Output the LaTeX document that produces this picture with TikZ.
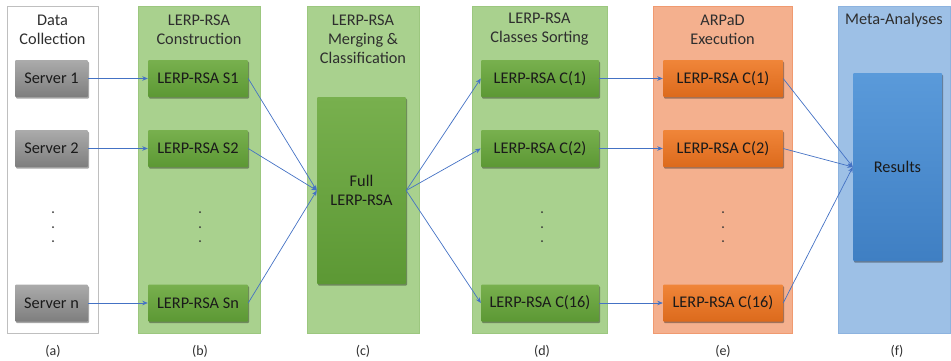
\documentclass[tikz,border=0pt]{standalone}
\usepackage{fontspec}
\setmainfont{Carlito}
\usetikzlibrary{shadows,arrows.meta}

\definecolor{colgreen}{HTML}{A9D18E}
\definecolor{colgreenln}{HTML}{9CC77F}
\definecolor{colorange}{HTML}{F4B08E}
\definecolor{colorangeln}{HTML}{F09A70}
\definecolor{colblue}{HTML}{9DC0E6}
\definecolor{colblueln}{HTML}{8DB3DF}
\definecolor{boxgreenT}{HTML}{78B04E}
\definecolor{boxgreenB}{HTML}{5C9834}
\definecolor{boxgrayT}{HTML}{ABABAB}
\definecolor{boxgrayB}{HTML}{7E7E7E}
\definecolor{boxorangeT}{HTML}{F08539}
\definecolor{boxorangeB}{HTML}{DC6A1C}
\definecolor{boxblueT}{HTML}{5A9ADA}
\definecolor{boxblueB}{HTML}{3F7FC3}
\definecolor{arrowblue}{HTML}{4472C4}
\definecolor{txt}{HTML}{1A1A1A}
\definecolor{titletxt}{HTML}{2E2E2E}

\begin{document}
\begin{tikzpicture}[x=1pt,y=-1pt,
  every node/.style={font=\fontsize{16.3}{19}\selectfont, text=txt},
  column/.style={draw, line width=0.8pt, inner sep=0pt},
  box/.style={inner sep=0pt, rounded corners=1pt,
    drop shadow={shadow xshift=1pt, shadow yshift=-1.6pt, opacity=0.35, fill=black}},
  greenbox/.style={box, top color=boxgreenT, bottom color=boxgreenB},
  graybox/.style={box, top color=boxgrayT, bottom color=boxgrayB},
  orangebox/.style={box, top color=boxorangeT, bottom color=boxorangeB},
  bluebox/.style={box, top color=boxblueT, bottom color=boxblueB},
  coltitle/.style={align=center, text=titletxt},
  sublabel/.style={font=\fontsize{14}{16}\selectfont, text=titletxt},
  link/.style={draw=arrowblue, line width=0.7pt, -{Stealth[length=5.5pt,width=4.5pt]}},
  dot/.style={fill=black!80}
]
\useasboundingbox (0,0) rectangle (951,360);

% column panels
\node[column, draw=black!25, fill=white, minimum width=91, minimum height=327] (colA) at (52.5,169.5) {};
\node[column, draw=colgreenln, fill=colgreen, minimum width=122, minimum height=327] (colB) at (199,169.5) {};
\node[column, draw=colgreenln, fill=colgreen, minimum width=112, minimum height=327] (colC) at (363,169.5) {};
\node[column, draw=colgreenln, fill=colgreen, minimum width=135, minimum height=327] (colD) at (539.5,169.5) {};
\node[column, draw=colorangeln, fill=colorange, minimum width=139, minimum height=327] (colE) at (722.5,169.5) {};
\node[column, draw=colblueln, fill=colblue, minimum width=112, minimum height=327] (colF) at (894,169.5) {};

% column titles
\node[coltitle] (tA) at (52.5,29.5) {Data\\Collection};
\node[coltitle] (tB) at (199,29.5) {LERP-RSA\\Construction};
\node[coltitle] (tC) at (363,39) {LERP-RSA\\Merging \&\\Classification};
\node[coltitle] (tD) at (539.5,29.5) {LERP-RSA\\Classes Sorting};
\node[coltitle] (tE) at (722.5,29.5) {ARPaD\\Execution};
\node[coltitle] (tF) at (894,20) {Meta-Analyses};

% (a) servers
\node[graybox, minimum width=73, minimum height=37] (srv1) at (51.5,78.5) {Server 1};
\node[graybox, minimum width=73, minimum height=37] (srv2) at (51.5,148.5) {Server 2};
\node[graybox, minimum width=73, minimum height=37] (srvn) at (51.5,303) {Server n};

% (b) per-server LERP-RSA
\node[greenbox, minimum width=100, minimum height=37] (s1) at (198,78.5) {LERP-RSA S1};
\node[greenbox, minimum width=100, minimum height=37] (s2) at (198,148.5) {LERP-RSA S2};
\node[greenbox, minimum width=100, minimum height=37] (sn) at (198,303) {LERP-RSA Sn};

% (c) merged LERP-RSA
\node[greenbox, align=center, minimum width=89, minimum height=187] (full) at (361.5,190.5) {Full\\LERP-RSA};

% (d) classes
\node[greenbox, minimum width=118, minimum height=37] (c1) at (540,78.5) {LERP-RSA C(1)};
\node[greenbox, minimum width=118, minimum height=37] (c2) at (540,148.5) {LERP-RSA C(2)};
\node[greenbox, minimum width=118, minimum height=37] (c16) at (540,303) {LERP-RSA C(16)};

% (e) ARPaD runs
\node[orangebox, minimum width=120, minimum height=37] (e1) at (723,78.5) {LERP-RSA C(1)};
\node[orangebox, minimum width=120, minimum height=37] (e2) at (723,148.5) {LERP-RSA C(2)};
\node[orangebox, minimum width=120, minimum height=37] (e16) at (723,303) {LERP-RSA C(16)};

% (f) results
\node[bluebox, minimum width=89, minimum height=188] (res) at (897.5,167) {Results};

% vertical ellipses
\foreach \x in {53,200,542,723}{
  \foreach \y in {212,227,241}{
    \fill[dot] (\x,\y) circle (1pt);
  }
}

% connectors
\draw[link] (srv1) -- (s1);
\draw[link] (srv2) -- (s2);
\draw[link] (srvn) -- (sn);
\draw[link] (s1.east) -- (full.west);
\draw[link] (s2.east) -- (full.west);
\draw[link] (sn.east) -- (full.west);
\draw[link] (full.east) -- (c1.west);
\draw[link] (full.east) -- (c2.west);
\draw[link] (full.east) -- (c16.west);
\draw[link] (c1) -- (e1);
\draw[link] (c2) -- (e2);
\draw[link] (c16) -- (e16);
\draw[link] (e1.east) -- (res.west);
\draw[link] (e2.east) -- (res.west);
\draw[link] (e16.east) -- (res.west);

% panel letters
\node[sublabel] (la) at (53,351) {(a)};
\node[sublabel] (lb) at (200,351) {(b)};
\node[sublabel] (lc) at (363,351) {(c)};
\node[sublabel] (ld) at (542,351) {(d)};
\node[sublabel] (le) at (723,351) {(e)};
\node[sublabel] (lf) at (897,351) {(f)};
\end{tikzpicture}
\end{document}
